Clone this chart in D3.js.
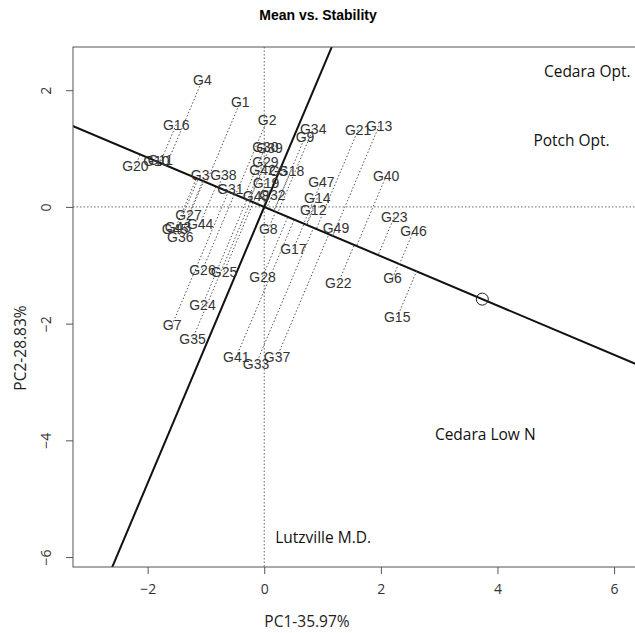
<!DOCTYPE html>
<html>
  <head>
    <meta charset="utf-8">
    <script src="https://d3js.org/d3.v7.min.js"></script>
    <title>Mean vs. Stability</title>
    <style>
      body { margin: 0; background: #fff; }
      .geno { font-family: "Liberation Sans", Arial, sans-serif; font-size: 14px; fill: #333; }
      .env { font-family: "Open Sans", sans-serif; font-size: 15.5px; fill: #111; }
      .tick text { font-family: "Open Sans", sans-serif; font-size: 14px; fill: #333; }
    </style>
  </head>
  <body>
    <div id="chart"></div>
    <script>
      // genotype scores (PC1, PC2)
      const genotypes = ["G1","G2","G3","G4","G5","G6","G7","G8","G9","G10","G11","G12","G13","G14","G15","G16","G17","G18","G19","G20","G21","G22","G23","G24","G25","G26","G27","G28","G29","G30","G31","G32","G33","G34","G35","G36","G37","G38","G39","G40","G41","G42","G43","G44","G45","G46","G47","G48","G49"];
      const genoPC1 = [-0.41,0.05,-1.10,-1.06,0.24,2.20,-1.58,0.07,0.70,-1.85,-1.78,0.84,1.97,0.91,2.28,-1.51,0.50,0.46,0.03,-2.21,1.61,1.27,2.23,-1.06,-0.69,-1.06,-1.30,-0.03,0.02,0.02,-0.58,0.14,-0.14,0.84,-1.23,-1.44,0.22,-0.70,0.09,2.09,-0.48,-0.03,-1.48,-1.10,-1.53,2.56,0.98,-0.14,1.23];
      const genoPC2 = [1.80,1.49,0.55,2.18,0.62,-1.22,-2.02,-0.38,1.20,0.79,0.81,-0.05,1.39,0.15,-1.89,1.41,-0.72,0.62,0.41,0.70,1.32,-1.30,-0.17,-1.68,-1.11,-1.08,-0.14,-1.20,0.77,1.03,0.31,0.21,-2.69,1.34,-2.26,-0.51,-2.57,0.55,1.01,0.53,-2.57,0.63,-0.34,-0.29,-0.38,-0.41,0.43,0.19,-0.36];

      // environment scores
      const environments = ["Cedara Opt.","Potch Opt.","Cedara Low N","Lutzville M.D."];
      const envPC1 = [5.54,5.27,3.79,1.01];
      const envPC2 = [2.33,1.15,-3.89,-5.66];

      // average environment coordinate
      const aec = [3.74,-1.58];

      const xTicks = [-2,0,2,4,6];
      const yTicks = [-6,-4,-2,0,2];

      const W = 635, H = 633;
      const pLeft = 73, pTop = 47, pBottom = 567, pRight = 638;

      const x = d3.scaleLinear().domain([-3.28, 6.41]).range([pLeft, pRight]);
      const y = d3.scaleLinear().domain([-6.17, 2.74]).range([pBottom, pTop]);

      const svg = d3.select("#chart").append("svg")
        .attr("width", W).attr("height", H);

      svg.append("defs").append("clipPath").attr("id", "plotclip")
        .append("rect").attr("x", pLeft).attr("y", pTop)
        .attr("width", pRight - pLeft).attr("height", pBottom - pTop);

      const plot = svg.append("g").attr("clip-path", "url(#plotclip)");

      // reference lines at zero
      plot.append("line")
        .attr("x1", x(0)).attr("x2", x(0)).attr("y1", pTop).attr("y2", pBottom)
        .attr("stroke", "#666").attr("stroke-dasharray", "1.5,2");
      plot.append("line")
        .attr("x1", pLeft).attr("x2", pRight).attr("y1", y(0)).attr("y2", y(0))
        .attr("stroke", "#666").attr("stroke-dasharray", "1.5,2");

      // AEC abscissa and ordinate
      const len = Math.hypot(aec[0], aec[1]);
      const u = [aec[0] / len, aec[1] / len];
      const big = 20;
      plot.append("line")
        .attr("x1", x(-u[0] * big)).attr("y1", y(-u[1] * big))
        .attr("x2", x(u[0] * big)).attr("y2", y(u[1] * big))
        .attr("stroke", "#111").attr("stroke-width", 2);
      plot.append("line")
        .attr("x1", x(u[1] * big)).attr("y1", y(-u[0] * big))
        .attr("x2", x(-u[1] * big)).attr("y2", y(u[0] * big))
        .attr("stroke", "#111").attr("stroke-width", 2);

      const geno = genotypes.map((g, i) => ({ name: g, pc1: genoPC1[i], pc2: genoPC2[i] }));

      // projection of each genotype onto the AEC abscissa
      plot.selectAll(".proj").data(geno).enter().append("line")
        .attr("class", "proj")
        .attr("x1", d => x(d.pc1)).attr("y1", d => y(d.pc2))
        .attr("x2", d => { const t = d.pc1 * u[0] + d.pc2 * u[1]; return x(t * u[0]); })
        .attr("y2", d => { const t = d.pc1 * u[0] + d.pc2 * u[1]; return y(t * u[1]); })
        .attr("stroke", "#555").attr("stroke-width", 1).attr("stroke-dasharray", "1.5,2");

      // AEC circle
      plot.append("circle")
        .attr("cx", x(aec[0])).attr("cy", y(aec[1])).attr("r", 6)
        .attr("fill", "none").attr("stroke", "#222").attr("stroke-width", 1);

      plot.selectAll(".geno").data(geno).enter().append("text")
        .attr("class", "geno")
        .attr("x", d => x(d.pc1)).attr("y", d => y(d.pc2))
        .attr("text-anchor", "middle").attr("dominant-baseline", "central")
        .text(d => d.name);

      plot.selectAll(".env").data(environments).enter().append("text")
        .attr("class", "env")
        .attr("x", (d, i) => x(envPC1[i])).attr("y", (d, i) => y(envPC2[i]))
        .attr("text-anchor", "middle").attr("dominant-baseline", "central")
        .text(d => d);

      // box
      svg.append("rect")
        .attr("x", pLeft).attr("y", pTop).attr("width", pRight - pLeft).attr("height", pBottom - pTop)
        .attr("fill", "none").attr("stroke", "#555");

      // axes
      const xAxis = svg.append("g").attr("transform", `translate(0,${pBottom})`)
        .call(d3.axisBottom(x).tickValues(xTicks).tickSize(7).tickPadding(10).tickFormat(d3.format("d")));
      xAxis.select(".domain").remove();
      xAxis.selectAll(".tick line").attr("stroke", "#555");

      const yAxis = svg.append("g").attr("transform", `translate(${pLeft},0)`)
        .call(d3.axisLeft(y).tickValues(yTicks).tickSize(7).tickFormat(d3.format("d")));
      yAxis.select(".domain").remove();
      yAxis.selectAll(".tick line").attr("stroke", "#555");
      yAxis.selectAll(".tick text")
        .attr("x", 0).attr("dy", 0)
        .attr("text-anchor", "middle")
        .attr("transform", "translate(-22,0) rotate(-90)");

      svg.append("text")
        .attr("x", 318).attr("y", 20)
        .attr("text-anchor", "middle")
        .style("font-family", "'Liberation Sans', Arial, sans-serif")
        .style("font-weight", "bold").style("font-size", "14px")
        .text("Mean vs. Stability");

      svg.append("text")
        .attr("x", 307).attr("y", 627)
        .attr("text-anchor", "middle")
        .style("font-family", "'Open Sans', sans-serif").style("font-size", "15.5px")
        .attr("fill", "#222")
        .text("PC1-35.97%");

      svg.append("text")
        .attr("transform", "translate(26,348) rotate(-90)")
        .attr("text-anchor", "middle")
        .style("font-family", "'Open Sans', sans-serif").style("font-size", "15.5px")
        .attr("fill", "#222")
        .text("PC2-28.83%");
    </script>
  </body>
</html>
